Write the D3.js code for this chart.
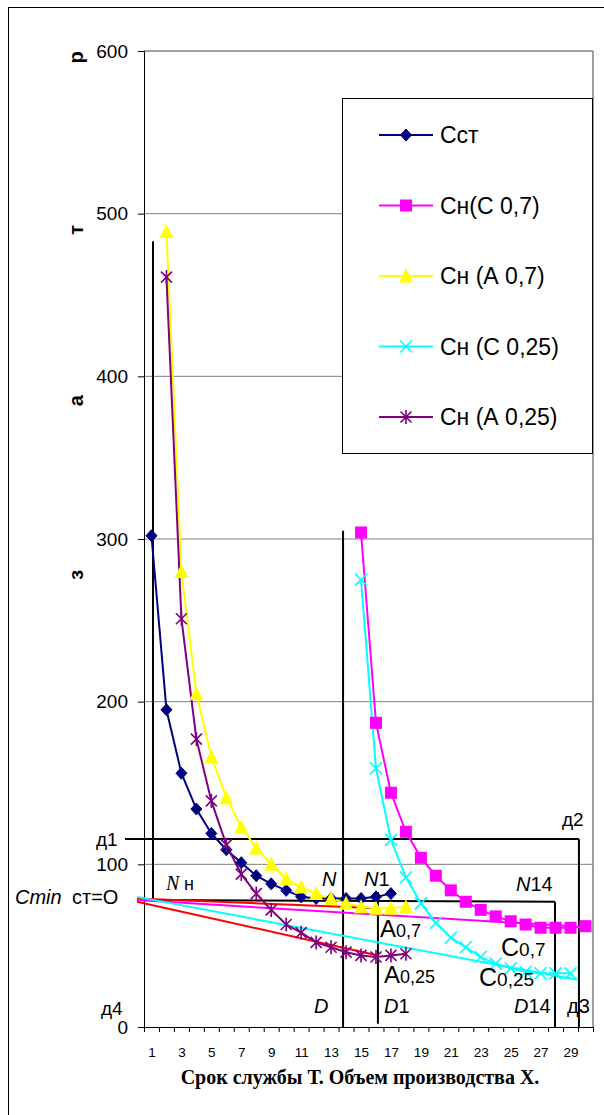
<!DOCTYPE html>
<html><head><meta charset="utf-8">
<script src="https://cdn.jsdelivr.net/npm/d3@7"></script>
<style>body{margin:0;background:#fff}svg{display:block}</style>
</head><body>
<script>
// ---- data ----
const categories = [1,2,3,4,5,6,7,8,9,10,11,12,13,14,15,16,17,18,19,20,21,22,23,24,25,26,27,28,29,30];
const xTickLabels = ["1","3","5","7","9","11","13","15","17","19","21","23","25","27","29"];
const yTickValues = [0,100,200,300,400,500,600];
const yTickLabels = ["0","100","200","300","400","500","600"];
const seriesNames = ["Сст","Сн(С 0,7)","Сн (А 0,7)","Сн (С 0,25)","Сн (А 0,25)"];
const seriesColors = ["#000080","#FF00FF","#FFFF00","#00FFFF","#800080"];
const seriesMarkers = ["diamond","square","triangle","x","star"];
const seriesStart = [1,15,2,15,2];
const sstValues  = [302,195,156,134,119,109,101,93,88,84,80,79,79,79,79,80,82];
const snC07      = [304,187,144,120,104,93,84,77,72,68,65,63,61,61,61,62];
const snA07      = [489,280,205,166,141,123,110,100,91,86,82,79,76,74,73,73,74];
const snC025     = [275,159,115,92,76,64,55,49,43,39,36,34,33,33,33];
const snA025     = [461,251,177,139,112,94,82,72,63,58,52,49,46,44,43,44,45];
const seriesValues = [sstValues, snC07, snA07, snC025, snA025];
// straight trend lines from Cmin (category position, value)
const trendColors = ["#FF0000","#FF0000","#FF00FF","#00FFFF"];
const trendFrom = [[0.03,79],[0.03,77],[0.03,78],[0.03,80]];
const trendTo   = [[16.13,73],[16.13,44],[29.95,61.5],[29.45,29]];
// black construction lines
const guideFrom = [[1.1,483],[-0.77,115.5],[29.56,115.5],[1.1,78],[27.96,77],[13.8,305],[16.13,83]];
const guideTo   = [[1.1,78],[29.56,115.5],[29.56,0],[27.96,77],[27.96,0],[13.8,0],[16.13,2]];
const yTitleLetters = ["з","а","т","р"];
const yTitleAt = [278,385,490,596];
const xTitle = "Срок службы Т. Объем производства Х.";

// ---- layout ----
const W=604,H=1115;
const SANS="Liberation Sans, Arial, sans-serif", SERIF="Liberation Serif, Times New Roman, serif";
const svg=d3.select("body").append("svg").attr("width",W).attr("height",H).attr("font-family",SANS);
const x=d3.scaleLinear().domain([0.5,30.5]).range([144,593]);
const y=d3.scaleLinear().domain([0,600]).range([1027,51]);

svg.append("rect").attr("x",8.5).attr("y",7.5).attr("width",620).attr("height",1130)
  .attr("fill","#fff").attr("stroke","#000").attr("stroke-width",1);

// gridlines
svg.append("g").selectAll("line").data(yTickValues.filter(v=>v>0)).join("line")
  .attr("x1",x(0.5)).attr("x2",x(30.5)).attr("y1",d=>y(d)).attr("y2",d=>y(d))
  .attr("stroke","#808080").attr("stroke-width",d=>d===600?1.5:1);
svg.append("line").attr("x1",x(30.5)).attr("x2",x(30.5)).attr("y1",y(600)).attr("y2",y(0))
  .attr("stroke","#808080").attr("stroke-width",1.5);

// axes
const yAxis=svg.append("g").attr("transform",`translate(${x(0.5)},0)`)
  .call(d3.axisLeft(y).tickValues(yTickValues).tickSize(6).tickPadding(10).tickFormat((d,i)=>yTickLabels[i]));
yAxis.attr("font-family",SANS);
yAxis.selectAll("text").attr("font-size",19).attr("fill","#000");
yAxis.selectAll("line,path").attr("stroke","#000");
const bounds=categories.map(c=>c-0.5).concat([30.5]);
const xAxis=svg.append("g").attr("transform",`translate(0,${y(0)})`)
  .call(d3.axisBottom(x).tickValues(bounds).tickSize(5).tickSizeOuter(0).tickFormat(""));
xAxis.selectAll("line,path").attr("stroke","#000");
const xLab=svg.append("g").attr("transform",`translate(0,${y(0)})`)
  .call(d3.axisBottom(x).tickValues(xTickLabels.map(Number)).tickSize(0).tickPadding(20).tickFormat((d,i)=>xTickLabels[i]));
xLab.attr("font-family",SANS);
xLab.select(".domain").remove();
xLab.selectAll("text").attr("font-size",13.5).attr("fill","#000");

// y title letters
svg.append("g").selectAll("text").data(yTitleLetters).join("text")
  .attr("transform",(d,i)=>`translate(83,${y(yTitleAt[i])}) rotate(-90)`)
  .attr("text-anchor","middle").attr("font-size",20).attr("font-weight","bold").text(d=>d);

// x title
svg.append("text").attr("x",360).attr("y",1084).attr("text-anchor","middle")
  .attr("font-family",SERIF).attr("font-weight","bold")
  .attr("font-size",20).text(xTitle);

// construction lines
svg.append("g").selectAll("line").data(guideFrom).join("line")
  .attr("x1",d=>x(d[0])).attr("y1",d=>y(d[1]))
  .attr("x2",(d,i)=>x(guideTo[i][0])).attr("y2",(d,i)=>y(guideTo[i][1]))
  .attr("stroke","#000").attr("stroke-width",2);

// trend lines
svg.append("g").selectAll("line").data(trendFrom).join("line")
  .attr("x1",d=>x(d[0])).attr("y1",d=>y(d[1]))
  .attr("x2",(d,i)=>x(trendTo[i][0])).attr("y2",(d,i)=>y(trendTo[i][1]))
  .attr("stroke",(d,i)=>trendColors[i]).attr("stroke-width",2);

// marker drawing
function marker(g,type,color){
  if(type==="diamond") g.append("path").attr("d","M0,-6L5.5,0L0,6L-5.5,0Z").attr("fill",color).attr("stroke",color);
  else if(type==="square") g.append("rect").attr("x",-6).attr("y",-6).attr("width",12).attr("height",12).attr("fill",color);
  else if(type==="triangle") g.append("path").attr("d","M0,-7.5L7,6.5L-7,6.5Z").attr("fill",color);
  else if(type==="x") g.append("path").attr("d","M-6,-6L6,6M-6,6L6,-6").attr("stroke",color).attr("stroke-width",1.6).attr("fill","none");
  else if(type==="star") g.append("path").attr("d","M-5.5,-5.5L5.5,5.5M-5.5,5.5L5.5,-5.5M0,-7L0,7").attr("stroke",color).attr("stroke-width",1.6).attr("fill","none");
}
const line=d3.line().x(d=>x(d[0])).y(d=>y(d[1]));
const order=[0,1,3,2,4];
order.forEach(si=>{
  const pts=seriesValues[si].map((v,i)=>[seriesStart[si]+i,v]);
  svg.append("path").attr("d",line(pts)).attr("fill","none").attr("stroke",seriesColors[si]).attr("stroke-width",2);
});
order.forEach(si=>{
  const pts=seriesValues[si].map((v,i)=>[seriesStart[si]+i,v]);
  pts.forEach(p=>{
    const g=svg.append("g").attr("transform",`translate(${x(p[0])},${y(p[1])})`);
    marker(g,seriesMarkers[si],seriesColors[si]);
  });
});

// legend
const lg=svg.append("g");
lg.append("rect").attr("x",342.5).attr("y",98.5).attr("width",250).attr("height",355)
  .attr("fill","#fff").attr("stroke","#000").attr("stroke-width",1);
seriesNames.forEach((n,i)=>{
  const cy=135+i*70.5;
  lg.append("line").attr("x1",379).attr("x2",433).attr("y1",cy).attr("y2",cy).attr("stroke",seriesColors[i]).attr("stroke-width",2);
  marker(lg.append("g").attr("transform",`translate(406,${cy})`),seriesMarkers[i],seriesColors[i]);
  lg.append("text").attr("x",440).attr("y",cy).attr("dy","0.36em").attr("font-size",23).text(n);
});

// annotation labels
function label(px,py,parts){
  const t=svg.append("text").attr("x",px).attr("y",py);
  parts.forEach(p=>{
    const s=t.append("tspan").text(p.t).attr("font-size",p.s);
    if(p.x!==undefined) s.attr("x",p.x);
    if(p.i) s.attr("font-style","italic");
    if(p.f) s.attr("font-family",p.f);
  });
  return t;
}
label(15,904,[{t:"Cmin",s:20,i:1},{t:"ст=О",s:20,x:72}]);
label(96,846,[{t:"д1",s:19}]);
label(101,1015,[{t:"д4",s:19}]);
label(166,890,[{t:"N",s:20,i:1,f:SERIF},{t:"н",s:18,x:184}]);
label(322,886,[{t:"N",s:20,i:1}]);
label(364,886,[{t:"N",s:20,i:1},{t:"1",s:20}]);
label(516,891,[{t:"N",s:20,i:1},{t:"14",s:20}]);
label(380,937,[{t:"А",s:24},{t:"0,7",s:18}]);
label(384,983,[{t:"А",s:24},{t:"0,25",s:18}]);
label(501,956,[{t:"С",s:25},{t:"0,7",s:19}]);
label(479,986,[{t:"С",s:25},{t:"0,25",s:19}]);
label(314,1013,[{t:"D",s:20,i:1}]);
label(384,1013,[{t:"D",s:20,i:1},{t:"1",s:20}]);
label(514,1013,[{t:"D",s:20,i:1},{t:"14",s:20}]);
label(567,1013,[{t:"д3",s:20}]);
label(562,826,[{t:"д2",s:19}]);
</script>
</body></html>
